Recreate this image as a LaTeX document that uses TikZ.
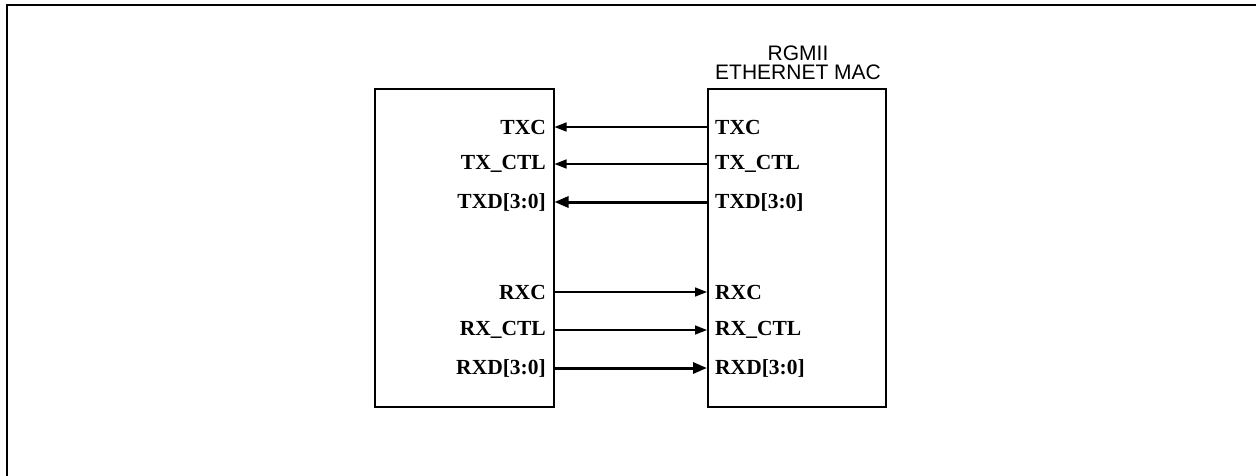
\documentclass[tikz,border=0pt]{standalone}
\usepackage{fontspec}
\setmainfont{Liberation Serif}
\newfontfamily\titlefont{Liberation Sans}
\usetikzlibrary{arrows.meta}
\begin{document}
\begin{tikzpicture}[x=1pt,y=-1pt,
  blk/.style={draw,line width=1.5pt,inner sep=0pt,minimum width=179pt,minimum height=318pt,anchor=north west},
  lbl/.style={inner sep=0pt,font=\fontsize{21.5}{21.5}\selectfont\bfseries},
  thin/.style={line width=1.5pt,-{Triangle[length=12pt,width=9pt]}},
  thick/.style={line width=3pt,-{Triangle[length=14pt,width=11pt]}},
  title/.style={align=center,inner sep=0pt,font=\titlefont\fontsize{21}{19.5}\selectfont}]
\useasboundingbox (0,0) rectangle (1256,475);
\draw[line width=2.2pt] (7,476) -- (7,5) -- (1257,5);
\node[blk] (phy) at (374,88) {};
\node[blk,minimum width=178pt] (mac) at (707,88) {};
\node[title,anchor=south] (ttl) at (798,80) {RGMII\\ETHERNET MAC};
% left labels
\node[lbl,anchor=east] (ltxc) at (546,127) {TXC};
\node[lbl,anchor=east] (ltxctl) at (546,164) {TX\_CTL};
\node[lbl,anchor=east] (ltxd) at (546,202) {TXD[3:0]};
\node[lbl,anchor=east] (lrxc) at (546,292) {RXC};
\node[lbl,anchor=east] (lrxctl) at (546,330) {RX\_CTL};
\node[lbl,anchor=east] (lrxd) at (546,368) {RXD[3:0]};
% right labels
\node[lbl,anchor=west] (rtxc) at (715,127) {TXC};
\node[lbl,anchor=west] (rtxctl) at (715,164) {TX\_CTL};
\node[lbl,anchor=west] (rtxd) at (715,202) {TXD[3:0]};
\node[lbl,anchor=west] (rrxc) at (715,292) {RXC};
\node[lbl,anchor=west] (rrxctl) at (715,330) {RX\_CTL};
\node[lbl,anchor=west] (rrxd) at (715,368) {RXD[3:0]};
% connectors
\draw[thin] (mac.west |- rtxc.west) -- (phy.east |- ltxc.east);
\draw[thin] (mac.west |- rtxctl.west) -- (phy.east |- ltxctl.east);
\draw[thick] (mac.west |- rtxd.west) -- (phy.east |- ltxd.east);
\draw[thin] (phy.east |- lrxc.east) -- (mac.west |- rrxc.west);
\draw[thin] (phy.east |- lrxctl.east) -- (mac.west |- rrxctl.west);
\draw[thick] (phy.east |- lrxd.east) -- (mac.west |- rrxd.west);
\end{tikzpicture}
\end{document}
